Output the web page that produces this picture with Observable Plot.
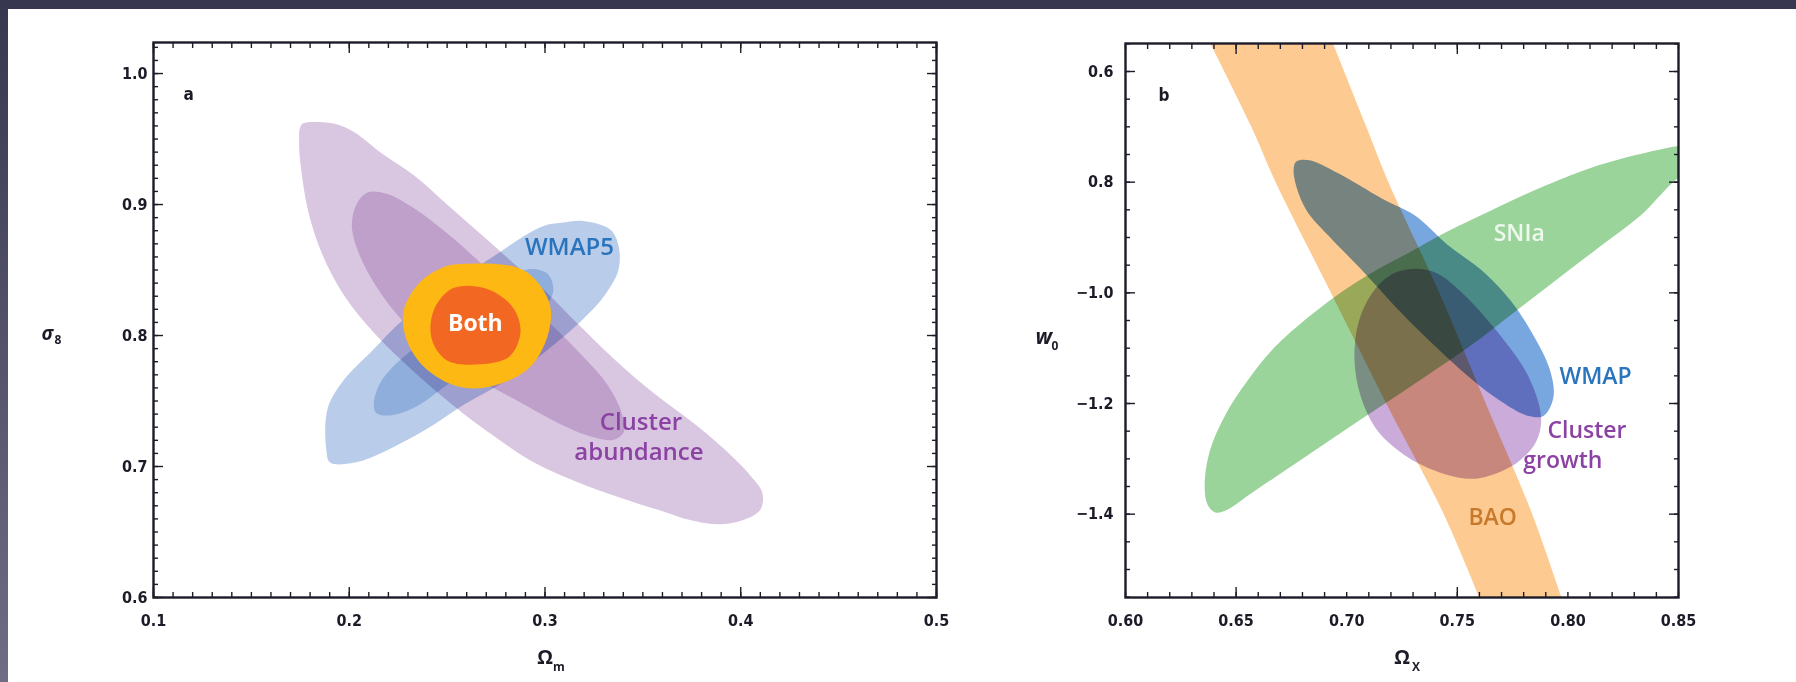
<!DOCTYPE html>
<html>
<head>
<meta charset="utf-8">
<script src="https://cdn.jsdelivr.net/npm/d3@7"></script>
<script src="https://cdn.jsdelivr.net/npm/@observablehq/plot@0.6"></script>
<style>
  html, body { margin: 0; padding: 0; background: #fff; }
  #slide { position: relative; width: 1796px; height: 682px; background: #fff; overflow: hidden; }
  #topband { position: absolute; left: 0; top: 0; width: 1796px; height: 9px; background: #37374f; }
  #leftband { position: absolute; left: 0; top: 0; width: 8px; height: 682px; background: linear-gradient(#37374f, #6f6d85); }
  #panelA { position: absolute; left: 0; top: 0; }
  #panelB { position: absolute; left: 960px; top: 0; }
</style>
</head>
<body>
<div id="slide">
  <div id="topband"></div>
  <div id="leftband"></div>
  <div id="panelA"></div>
  <div id="panelB"></div>
</div>
<script>
// ---------- Panel a: σ8 against Ωm ----------
// Confidence-region outlines, vertices as [Ωm, σ8]
const clusterAbundance95 = [
  [0.1756, 0.961], [0.1833, 0.963], [0.1944, 0.961], [0.2028, 0.955], [0.2167, 0.939],
  [0.2333, 0.922], [0.25, 0.900], [0.2667, 0.878], [0.2833, 0.856], [0.30, 0.834],
  [0.3167, 0.809], [0.3361, 0.781], [0.3556, 0.756], [0.3778, 0.731], [0.394, 0.710],
  [0.405, 0.693], [0.411, 0.680], [0.410, 0.667], [0.401, 0.659], [0.388, 0.656],
  [0.372, 0.660], [0.3639, 0.664], [0.3389, 0.676], [0.3167, 0.688], [0.2944, 0.703],
  [0.2722, 0.725], [0.2528, 0.747], [0.2333, 0.772], [0.2139, 0.800], [0.1972, 0.831],
  [0.1861, 0.8625], [0.1792, 0.894], [0.1756, 0.925], [0.1744, 0.947]
];
const clusterAbundance68 = [
  [0.2014, 0.8875], [0.2042, 0.9016], [0.2097, 0.9094], [0.2194, 0.908], [0.2333, 0.8969],
  [0.25, 0.878], [0.2667, 0.856], [0.2833, 0.834], [0.3028, 0.809], [0.3194, 0.784],
  [0.3319, 0.7625], [0.3389, 0.742], [0.3403, 0.7266], [0.3347, 0.7203], [0.3222, 0.7234],
  [0.3056, 0.734], [0.2861, 0.75], [0.2667, 0.7656], [0.2472, 0.7844], [0.2306, 0.806],
  [0.2167, 0.831], [0.2069, 0.856], [0.2022, 0.875]
];
const wmap5_95 = [
  [0.3083, 0.886], [0.3194, 0.8875], [0.3333, 0.881], [0.3375, 0.869], [0.3375, 0.85],
  [0.3306, 0.831], [0.3194, 0.8125], [0.30, 0.7875], [0.2806, 0.766], [0.2583, 0.747],
  [0.2389, 0.728], [0.2194, 0.7125], [0.2028, 0.703], [0.1903, 0.703], [0.1883, 0.7125],
  [0.1889, 0.744], [0.1972, 0.766], [0.2111, 0.7875], [0.2278, 0.8125], [0.25, 0.8375],
  [0.2722, 0.859], [0.2917, 0.878], [0.30, 0.884]
];
const wmap5_68 = [
  [0.2125, 0.7469], [0.2153, 0.7625], [0.2236, 0.778], [0.2389, 0.797], [0.2583, 0.819],
  [0.2778, 0.8406], [0.2917, 0.8506], [0.3014, 0.847], [0.3042, 0.834], [0.2986, 0.819],
  [0.2833, 0.80], [0.2667, 0.781], [0.25, 0.7625], [0.2333, 0.745], [0.2208, 0.739],
  [0.2139, 0.7406]
];
const both95 = [
  [0.2583, 0.8547], [0.2889, 0.85], [0.3022, 0.825], [0.3014, 0.80], [0.2917, 0.775],
  [0.2722, 0.761], [0.2556, 0.761], [0.2389, 0.775], [0.2292, 0.797], [0.2278, 0.819],
  [0.2361, 0.8406], [0.2472, 0.8516]
];
const both68 = [
  [0.2528, 0.836], [0.2694, 0.836], [0.2833, 0.822], [0.2875, 0.803], [0.2819, 0.784],
  [0.2667, 0.778], [0.25, 0.781], [0.2422, 0.797], [0.2431, 0.819]
];
const omegaMTicks = [0.1, 0.2, 0.3, 0.4, 0.5];
const omegaMTickLabels = ["0.1", "0.2", "0.3", "0.4", "0.5"];
const sigma8Ticks = [0.6, 0.7, 0.8, 0.9, 1.0];
const sigma8TickLabels = ["0.6", "0.7", "0.8", "0.9", "1.0"];
const panelALabels = [
  {text: "WMAP5", x: 0.3125, y: 0.867, color: "#2a73bd"},
  {text: "Cluster", x: 0.349, y: 0.734, color: "#8b42a3"},
  {text: "abundance", x: 0.348, y: 0.711, color: "#8b42a3"}
];

// ---------- Panel b: w0 against ΩX ----------
// BAO band rows: [w0, ΩX left edge, ΩX right edge]
const baoBand = [
  [-0.53, 0.636, 0.692], [-0.70, 0.657, 0.709], [-0.80, 0.668, 0.719], [-1.00, 0.693, 0.742],
  [-1.20, 0.718, 0.763], [-1.40, 0.744, 0.784], [-1.56, 0.761, 0.798]
];
// Outlines, vertices as [ΩX, w0]
const snia = [
  [0.86, -0.728], [0.85, -0.7343], [0.8378, -0.744], [0.8135, -0.770], [0.7891, -0.8075],
  [0.7648, -0.852], [0.7453, -0.8896], [0.7283, -0.927], [0.7112, -0.964], [0.6966, -1.0015],
  [0.682, -1.046], [0.6674, -1.0985], [0.6553, -1.158], [0.6455, -1.218], [0.6382, -1.285],
  [0.6358, -1.345], [0.637, -1.382], [0.6406, -1.397], [0.6455, -1.393], [0.6577, -1.36],
  [0.6772, -1.3075], [0.6966, -1.255], [0.7161, -1.203], [0.7356, -1.151], [0.755, -1.0985],
  [0.7745, -1.039], [0.794, -0.979], [0.8135, -0.9194], [0.833, -0.860], [0.85, -0.7925],
  [0.86, -0.775]
];
const wmapB = [
  [0.6772, -0.7627], [0.6832, -0.7604], [0.6966, -0.785], [0.7161, -0.830], [0.7307, -0.860],
  [0.7453, -0.912], [0.7624, -0.964], [0.7745, -1.016], [0.7843, -1.076], [0.7916, -1.136],
  [0.7935, -1.188], [0.7891, -1.222], [0.7818, -1.222], [0.7697, -1.196], [0.755, -1.151],
  [0.7405, -1.0985], [0.7234, -1.031], [0.7064, -0.957], [0.6918, -0.897], [0.682, -0.852],
  [0.6772, -0.8075], [0.676, -0.7776]
];
const clusterGrowth = [
  [0.7307, -0.9567], [0.7405, -0.964], [0.7526, -1.0015], [0.7680, -1.07], [0.7820, -1.15],
  [0.7879, -1.2254], [0.7855, -1.27], [0.777, -1.307], [0.7648, -1.33], [0.755, -1.336],
  [0.7405, -1.3224], [0.7259, -1.2925], [0.7137, -1.248], [0.7064, -1.188], [0.7035, -1.121],
  [0.7053, -1.054], [0.7113, -1.0015], [0.7198, -0.968]
];
const omegaXTicks = [0.60, 0.65, 0.70, 0.75, 0.80, 0.85];
const omegaXTickLabels = ["0.60", "0.65", "0.70", "0.75", "0.80", "0.85"];
const w0Ticks = [-0.6, -0.8, -1.0, -1.2, -1.4];
const w0TickLabels = ["0.6", "0.8", "\u22121.0", "\u22121.2", "\u22121.4"];
const panelBLabels = [
  {text: "SNIa", x: 0.778, y: -0.893, color: "#eef8ec"},
  {text: "WMAP", x: 0.8125, y: -1.152, color: "#2a73bd"},
  {text: "Cluster", x: 0.8086, y: -1.249, color: "#8b42a3"},
  {text: "growth", x: 0.7977, y: -1.304, color: "#8b42a3"},
  {text: "BAO", x: 0.766, y: -1.406, color: "#c77a2c"}
];

// ---------- shared helpers ----------
const tickFont = "'Liberation Sans Narrow', 'DejaVu Sans Condensed', sans-serif";
const labelFont = "'Open Sans', 'Noto Sans', sans-serif";
const ink = "#1c1c28";

function region(points, fill, extra = {}) {
  return Plot.line(points, {
    x: d => d[0], y: d => d[1], curve: "catmull-rom-closed",
    fill, stroke: "none", clip: true, ...extra
  });
}

function frameTicks(xMinor, xMajor, yMinor, yMajor) {
  const marks = [];
  for (const [anchor, d] of [["bottom", -1], ["top", 1]]) {
    marks.push(Plot.axisX({ticks: xMinor, anchor, tickSize: 5, dy: 5 * d, fill: "none", stroke: ink, strokeWidth: 1.4, label: null}));
    marks.push(Plot.axisX({ticks: xMajor, anchor, tickSize: 10, dy: 10 * d, fill: "none", stroke: ink, strokeWidth: 1.4, label: null}));
  }
  for (const [anchor, d] of [["left", 1], ["right", -1]]) {
    marks.push(Plot.axisY({ticks: yMinor, anchor, tickSize: 5, dx: 5 * d, fill: "none", stroke: ink, strokeWidth: 1.4, label: null}));
    marks.push(Plot.axisY({ticks: yMajor, anchor, tickSize: 10, dx: 10 * d, fill: "none", stroke: ink, strokeWidth: 1.4, label: null}));
  }
  return marks;
}

function fixedRange(lo, hi, step) {
  const out = [];
  for (let v = Math.round(lo / step); v <= Math.round(hi / step); v++) out.push(+(v * step).toFixed(4));
  return out;
}

const labelMap = (vals, labels) => new Map(vals.map((v, i) => [v, labels[i]]));

// overlapping confidence regions darken each other like stacked transparencies
function multiplyRegions(svg, count) {
  svg.querySelectorAll('g[aria-label="line"]').forEach((g, i) => {
    if (i < count) g.style.mixBlendMode = "multiply";
  });
}

// ---------- Panel a ----------
const aXMap = labelMap(omegaMTicks, omegaMTickLabels);
const aYMap = labelMap(sigma8Ticks, sigma8TickLabels);

const panelA = Plot.plot({
  width: 960, height: 682,
  marginLeft: 153, marginRight: 24, marginTop: 42, marginBottom: 85,
  x: {domain: [0.1, 0.5]},
  y: {domain: [0.6, 1.0237]},
  style: {background: "transparent", overflow: "visible"},
  marks: [
    region(clusterAbundance95, "#d9c6e0"),
    region(clusterAbundance68, "#dfcee8"),
    region(wmap5_95, "#b9cdeb"),
    region(wmap5_68, "#c5d9ef"),
    region(both95, "#fdb813"),
    region(both68, "#f26722"),
    Plot.text(["Both"], {x: [0.2644], y: [0.809], text: d => d, fill: "white", fontSize: 23, fontWeight: "bold", fontFamily: labelFont}),
    Plot.text(panelALabels, {x: "x", y: "y", text: "text", fill: "color", fontSize: 24, fontWeight: 600, fontFamily: labelFont}),
    Plot.text(["a"], {frameAnchor: "top-left", dx: 30, dy: 45, text: d => d, fontSize: 17, fontWeight: "bold", fill: ink, fontFamily: tickFont}),
    Plot.frame({stroke: ink, strokeWidth: 2.4}),
    ...frameTicks(fixedRange(0.1, 0.5, 0.01), omegaMTicks, fixedRange(0.6, 1.02, 0.01), sigma8Ticks),
    Plot.axisX({ticks: omegaMTicks, tickFormat: d => aXMap.get(d), anchor: "bottom", tickSize: 0, tickPadding: 17, fontSize: 16, fontWeight: "bold", fill: ink, fontFamily: tickFont, label: null}),
    Plot.axisY({ticks: sigma8Ticks, tickFormat: d => aYMap.get(d), anchor: "left", tickSize: 0, tickPadding: 6, fontSize: 16, fontWeight: "bold", fill: ink, fontFamily: tickFont, label: null}),
    Plot.text(["Ω"], {frameAnchor: "bottom", dx: 0, dy: 66, text: d => d, fontSize: 20, fontWeight: "bold", fill: ink, fontFamily: labelFont}),
    Plot.text(["m"], {frameAnchor: "bottom", dx: 14, dy: 73, text: d => d, fontSize: 12, fontWeight: "bold", fill: ink, fontFamily: labelFont}),
    Plot.text(["σ"], {frameAnchor: "left", dx: -112, dy: 14, text: d => d, fontSize: 19, fontStyle: "italic", fontWeight: "bold", fill: ink, fontFamily: labelFont}),
    Plot.text(["8"], {frameAnchor: "left", dx: -99, dy: 20, text: d => d, fontSize: 12, fontWeight: "bold", fill: ink, fontFamily: labelFont})
  ]
});
multiplyRegions(panelA, 4);
document.getElementById("panelA").append(panelA);

// ---------- Panel b ----------
const bXMap = labelMap(omegaXTicks, omegaXTickLabels);
const bYMap = labelMap(w0Ticks, w0TickLabels);

const panelB = Plot.plot({
  width: 836, height: 682,
  marginLeft: 165, marginRight: 118, marginTop: 43, marginBottom: 85,
  x: {domain: [0.60, 0.85]},
  y: {domain: [-1.5506, -0.5494]},
  style: {background: "transparent", overflow: "visible"},
  marks: [
    Plot.areaX(baoBand, {y: d => d[0], x1: d => d[1], x2: d => d[2], curve: "catmull-rom", fill: "#fdca92", clip: true}),
    region(clusterGrowth, "#caabd9"),
    region(wmapB, "#78a6de"),
    region(snia, "#9bd49b"),
    Plot.text(panelBLabels, {x: "x", y: "y", text: "text", fill: "color", fontSize: 23, fontWeight: 600, fontFamily: labelFont}),
    Plot.text(["b"], {frameAnchor: "top-left", dx: 33, dy: 45, text: d => d, fontSize: 17, fontWeight: "bold", fill: ink, fontFamily: tickFont}),
    Plot.frame({stroke: ink, strokeWidth: 2.4}),
    ...frameTicks(fixedRange(0.60, 0.85, 0.01), [0.65, 0.75], fixedRange(-1.55, -0.55, 0.05), w0Ticks),
    Plot.axisX({ticks: omegaXTicks, tickFormat: d => bXMap.get(d), anchor: "bottom", tickSize: 0, tickPadding: 17, fontSize: 16, fontWeight: "bold", fill: ink, fontFamily: tickFont, label: null}),
    Plot.axisY({ticks: w0Ticks, tickFormat: d => bYMap.get(d), anchor: "left", tickSize: 0, tickPadding: 12, fontSize: 16, fontWeight: "bold", fill: ink, fontFamily: tickFont, label: null}),
    Plot.text(["Ω"], {frameAnchor: "bottom", dx: 0, dy: 66, text: d => d, fontSize: 20, fontWeight: "bold", fill: ink, fontFamily: labelFont}),
    Plot.text(["X"], {frameAnchor: "bottom", dx: 14, dy: 73, text: d => d, fontSize: 12, fontWeight: "bold", fill: ink, fontFamily: labelFont}),
    Plot.text(["w"], {frameAnchor: "left", dx: -90, dy: 17, text: d => d, fontSize: 21, fontStyle: "italic", fontWeight: "bold", fill: ink, fontFamily: labelFont}),
    Plot.text(["0"], {frameAnchor: "left", dx: -74, dy: 26, text: d => d, fontSize: 12, fontWeight: "bold", fill: ink, fontFamily: labelFont})
  ]
});
panelB.querySelectorAll('g[aria-label="area"], g[aria-label="line"]').forEach(g => { g.style.mixBlendMode = "multiply"; });
document.getElementById("panelB").append(panelB);
</script>
</body>
</html>
